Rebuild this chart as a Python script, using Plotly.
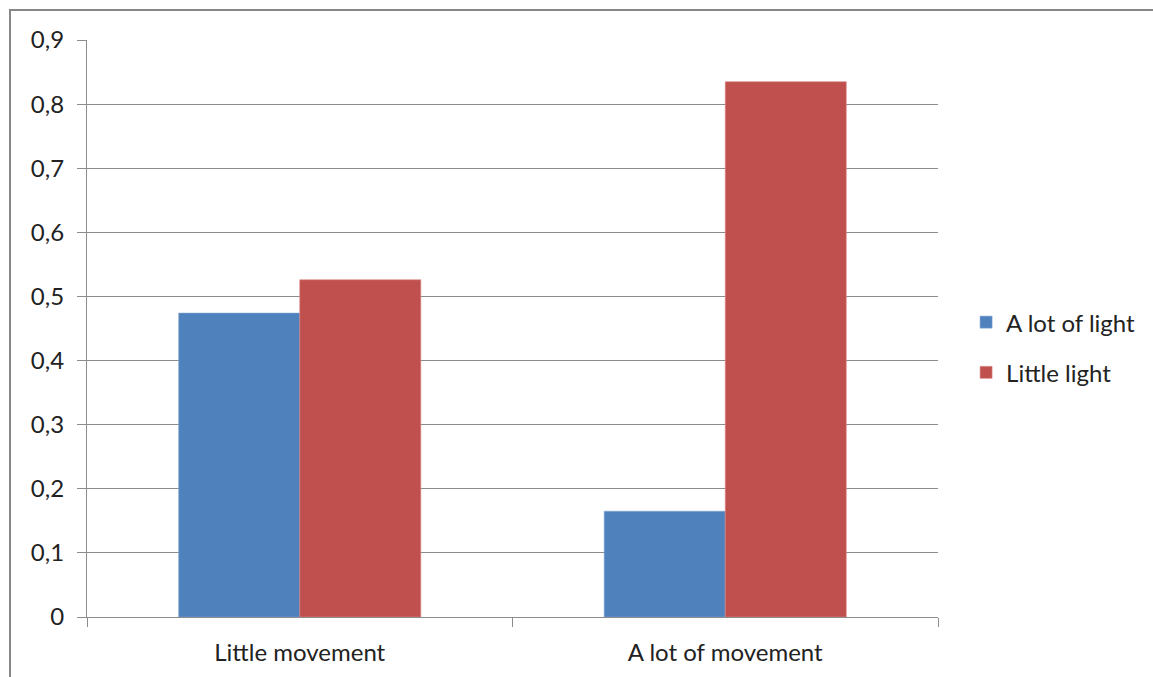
import plotly.graph_objects as go

categories = ["Little movement", "A lot of movement"]
series_names = ["A lot of light", "Little light"]
a_lot_of_light = [0.474, 0.165]
little_light = [0.526, 0.835]
y_tick_values = [0, 0.1, 0.2, 0.3, 0.4, 0.5, 0.6, 0.7, 0.8, 0.9]
y_tick_labels = ["0", "0,1", "0,2", "0,3", "0,4", "0,5", "0,6", "0,7", "0,8", "0,9"]

BLUE = "#4F81BD"
RED = "#C0504D"
GRID = "#8C8C8C"
TEXT = "#222222"
FONT = "Lato, 'Open Sans', sans-serif"

fig = go.Figure()
fig.add_trace(go.Bar(
    x=categories, y=a_lot_of_light, name=series_names[0],
    marker=dict(color=BLUE, line=dict(color="#7FA3D2", width=0.6)),
    legendgroup="a",
))
fig.add_trace(go.Bar(
    x=categories, y=little_light, name=series_names[1],
    marker=dict(color=RED, line=dict(color="#D98886", width=0.6)),
    legendgroup="b",
))

fig.update_layout(
    width=1153, height=677,
    margin=dict(l=87, r=215, t=40, b=60),
    paper_bgcolor="white", plot_bgcolor="white",
    barmode="group", bargap=0.431, bargroupgap=0,
    font=dict(family=FONT, size=22, color=TEXT),
    showlegend=True,
    legend=dict(
        x=1.033, xanchor="left", y=0.467, yanchor="middle",
        font=dict(family=FONT, size=24, color=TEXT),
        tracegroupgap=16, itemwidth=30,
        bgcolor="rgba(0,0,0,0)",
    ),
    shapes=[dict(
        type="rect", xref="paper", yref="paper",
        x0=-77 / 851, x1=1.5, y0=-0.2, y1=1 + 30 / 577.5,
        line=dict(color="#878787", width=2), fillcolor="rgba(0,0,0,0)",
        layer="above",
    )],
)

fig.update_xaxes(
    showgrid=False, showline=True, linecolor=GRID, linewidth=1.2,
    ticks="outside", tickson="boundaries", ticklen=9, tickcolor=GRID,
    tickwidth=1.2, ticklabelstandoff=14,
    tickfont=dict(family=FONT, size=24, color=TEXT),
)
fig.update_yaxes(
    range=[0, 0.9], tickvals=y_tick_values, ticktext=y_tick_labels,
    showgrid=True, gridcolor=GRID, gridwidth=1.2,
    showline=True, linecolor=GRID, linewidth=1.2,
    ticks="outside", ticklen=9, tickcolor=GRID, tickwidth=1.2,
    ticklabelstandoff=8, zeroline=False,
    tickfont=dict(family=FONT, size=24, color=TEXT),
)

fig.write_html("out.html")
